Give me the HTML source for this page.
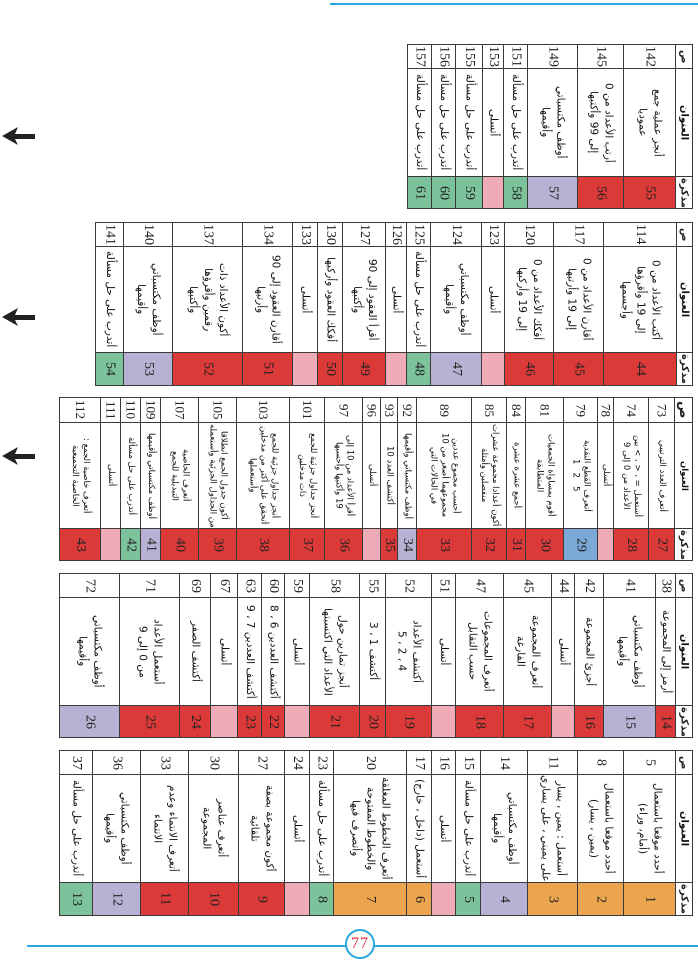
<!DOCTYPE html>
<html><head><meta charset="utf-8">
<style>
html,body{margin:0;padding:0;background:#fff;}
body{width:698px;height:962px;position:relative;overflow:hidden;font-family:"DejaVu Sans","Liberation Sans",sans-serif;}
.r{position:absolute;display:flex;flex-direction:column;border:1px solid #3a3a3a;box-sizing:border-box;}
.r>div{writing-mode:vertical-rl;display:flex;align-items:center;justify-content:center;text-align:center;box-sizing:border-box;overflow:hidden;}
.p{border-bottom:1px solid #3a3a3a;font-family:"Liberation Serif",serif;font-size:14px;color:#222;}
.n{flex:1;border-bottom:1px solid #3a3a3a;direction:rtl;font-size:10.5px;line-height:15px;color:#111;}
.m{font-family:"Liberation Serif",serif;font-size:14px;color:#222;}
.h .p,.h .n,.h .m{font-family:"DejaVu Sans",sans-serif;font-weight:bold;font-size:10px;}
.t1 .r{top:44px;height:165px}.t1 .p{height:24px}.t1 .m{height:31px}
.t2 .r{top:222px;height:164px}.t2 .p{height:24px}.t2 .m{height:32px}
.t3 .r{top:397px;height:164px}.t3 .p{height:25px}.t3 .m{height:31px}.t3 .n{font-size:8.5px;line-height:11px}.t3 .p{font-size:13px}
.t4 .r{top:573px;height:165px}.t4 .p{height:24px}.t4 .m{height:31px}
.t5 .r{top:750px;height:166px}.t5 .p{height:24px}.t5 .m{height:32px}
.R{background:#dc3a38}.V{background:#b9b1d3}.G{background:#7cc29b}.K{background:#f0abb9}.B{background:#7aa8d7}.O{background:#eca54f}
</style></head><body>
<div style="position:absolute;left:330px;top:3px;width:368px;height:2px;background:#2aa7e0"></div>
<div style="position:absolute;left:27px;top:945px;width:671px;height:2px;background:#2aa7e0"></div>
<div style="position:absolute;left:345px;top:929px;width:30px;height:30px;border:2px solid #2aa7e0;border-radius:50%;background:#fff;box-sizing:border-box;text-align:center;line-height:26px;color:#e03040;font-family:'Liberation Serif',serif;font-size:16px;letter-spacing:1px">77</div>
<svg style="position:absolute;left:0;top:0" width="40" height="480">
<polygon points="2,136 18,127 15,134 35,134 35,139 15,139 18,145" fill="#222"/>
<polygon points="2,317 18,308 15,315 35,315 35,320 15,320 18,326" fill="#222"/>
<polygon points="2,456 18,447 15,454 35,454 35,459 15,459 18,465" fill="#222"/>
</svg>

<div class="t1">
<div class="r h" style="left:675px;width:18px"><div class="p">ص</div><div class="n">العنوان</div><div class="m">مذكرة</div></div>
<div class="r" style="left:623px;width:53px"><div class="p">142</div><div class="n">أنجز عملية جمع<br>عموديا</div><div class="m R">55</div></div>
<div class="r" style="left:577px;width:47px"><div class="p">145</div><div class="n">أرتب الأعداد من 0<br>إلى 99 وأكتبها</div><div class="m R">56</div></div>
<div class="r" style="left:527px;width:51px"><div class="p">149</div><div class="n">أوظف مكتسباتي<br>وأقيمها</div><div class="m V">57</div></div>
<div class="r" style="left:503px;width:25px"><div class="p">151</div><div class="n">أتدرب على حل مسألة</div><div class="m G">58</div></div>
<div class="r" style="left:482px;width:22px"><div class="p">153</div><div class="n">أتسلى</div><div class="m K"></div></div>
<div class="r" style="left:455px;width:28px"><div class="p">155</div><div class="n">أتدرب على حل مسألة</div><div class="m G">59</div></div>
<div class="r" style="left:431px;width:25px"><div class="p">156</div><div class="n">أتدرب على حل مسألة</div><div class="m G">60</div></div>
<div class="r" style="left:407px;width:25px"><div class="p">157</div><div class="n">أتدرب على حل مسألة</div><div class="m G">61</div></div>
</div>

<div class="t2">
<div class="r h" style="left:676px;width:17px"><div class="p">ص</div><div class="n">العنوان</div><div class="m">مذكرة</div></div>
<div class="r" style="left:603px;width:74px"><div class="p">114</div><div class="n">أكتب الأعداد من 0<br>إلى 19 وأقرؤها<br>وأجسمها</div><div class="m R">44</div></div>
<div class="r" style="left:553px;width:51px"><div class="p">117</div><div class="n">أقارن الأعداد من 0<br>إلى 19 وأرتبها</div><div class="m R">45</div></div>
<div class="r" style="left:504px;width:50px"><div class="p">120</div><div class="n">أفكك الأعداد من 0<br>إلى 19 وأركبها</div><div class="m R">46</div></div>
<div class="r" style="left:481px;width:24px"><div class="p">123</div><div class="n">أتسلى</div><div class="m K"></div></div>
<div class="r" style="left:430px;width:52px"><div class="p">124</div><div class="n">أوظف مكتسباتي<br>وأقيمها</div><div class="m V">47</div></div>
<div class="r" style="left:406px;width:25px"><div class="p">125</div><div class="n">أتدرب على حل مسألة</div><div class="m G">48</div></div>
<div class="r" style="left:385px;width:22px"><div class="p">126</div><div class="n">أتسلى</div><div class="m K"></div></div>
<div class="r" style="left:342px;width:44px"><div class="p">127</div><div class="n">أقرأ العقود إلى 90<br>وأكتبها</div><div class="m R">49</div></div>
<div class="r" style="left:317px;width:26px"><div class="p">130</div><div class="n">أفكك العقود وأركبها</div><div class="m R">50</div></div>
<div class="r" style="left:292px;width:26px"><div class="p">133</div><div class="n">أتسلى</div><div class="m K"></div></div>
<div class="r" style="left:242px;width:51px"><div class="p">134</div><div class="n">أقارن العقود إلى 90<br>وأرتبها</div><div class="m R">51</div></div>
<div class="r" style="left:172px;width:71px"><div class="p">137</div><div class="n">أكون الأعداد ذات<br>رقمين وأقرؤها<br>وأكتبها</div><div class="m R">52</div></div>
<div class="r" style="left:123px;width:50px"><div class="p">140</div><div class="n">أوظف مكتسباتي<br>وأقيمها</div><div class="m V">53</div></div>
<div class="r" style="left:95px;width:29px"><div class="p">141</div><div class="n">أتدرب على حل مسألة</div><div class="m G">54</div></div>
</div>

<div class="t3">
<div class="r h" style="left:674px;width:19px"><div class="p">ص</div><div class="n">العنوان</div><div class="m">مذكرة</div></div>
<div class="r" style="left:648px;width:27px"><div class="p">73</div><div class="n">أتعرف العدد الترتيبي</div><div class="m R">27</div></div>
<div class="r" style="left:613px;width:36px"><div class="p">74</div><div class="n">أستعمل = ، &lt; ، &gt; بين<br>الأعداد من 0 إلى 9</div><div class="m R">28</div></div>
<div class="r" style="left:597px;width:17px"><div class="p">78</div><div class="n">أتسلى</div><div class="m K"></div></div>
<div class="r" style="left:563px;width:35px"><div class="p">79</div><div class="n">أتعرف القطع النقدية<br>5 &nbsp; 2 &nbsp; 1</div><div class="m B">29</div></div>
<div class="r" style="left:525px;width:39px"><div class="p">81</div><div class="n">أقوم بمساواة الجمعيات<br>المتطابقة</div><div class="m R">30</div></div>
<div class="r" style="left:506px;width:20px"><div class="p">84</div><div class="n">أجمع عشرة عشرة</div><div class="m R">31</div></div>
<div class="r" style="left:471px;width:36px"><div class="p">85</div><div class="n">أكون أعدادا مجموعة عشرات<br>منفصلين وأمثلة</div><div class="m R">32</div></div>
<div class="r" style="left:416px;width:56px"><div class="p">89</div><div class="n">أحسب مجموع عددين<br>مجموعهما أصغر من 10<br>في الحالات التي</div><div class="m R">33</div></div>
<div class="r" style="left:397px;width:20px"><div class="p">92</div><div class="n">أوظف مكتسباتي وأقيمها</div><div class="m V">34</div></div>
<div class="r" style="left:380px;width:18px"><div class="p">93</div><div class="n">أكتشف العدد 10</div><div class="m R">35</div></div>
<div class="r" style="left:362px;width:19px"><div class="p">96</div><div class="n">أتسلى</div><div class="m K"></div></div>
<div class="r" style="left:324px;width:39px"><div class="p">97</div><div class="n">أقرأ الأعداد من 10 إلى<br>19 وأكتبها وأحسبها</div><div class="m R">36</div></div>
<div class="r" style="left:289px;width:36px"><div class="p">101</div><div class="n">أنجز جداول جزئية للجمع<br>ذات مدخلين</div><div class="m R">37</div></div>
<div class="r" style="left:236px;width:54px"><div class="p">103</div><div class="n">أنجز جداول جزئية للجمع<br>أتحقق على أكثر من مدخلين<br>وأستعملها</div><div class="m R">38</div></div>
<div class="r" style="left:198px;width:39px"><div class="p">105</div><div class="n">أكون جدول الجمع انطلاقا<br>من الجداول الجزئية وأستعمله</div><div class="m R">39</div></div>
<div class="r" style="left:160px;width:39px"><div class="p">107</div><div class="n">أتعرف الخاصية<br>التبديلية للجمع</div><div class="m R">40</div></div>
<div class="r" style="left:140px;width:21px"><div class="p">109</div><div class="n">أوظف مكتسباتي وأقيمها</div><div class="m V">41</div></div>
<div class="r" style="left:120px;width:21px"><div class="p">110</div><div class="n">أتدرب على حل مسألة</div><div class="m G">42</div></div>
<div class="r" style="left:100px;width:21px"><div class="p">111</div><div class="n">أتسلى</div><div class="m K"></div></div>
<div class="r" style="left:59px;width:42px"><div class="p">112</div><div class="n">أتعرف خاصية الجمع :<br>الخاصية التجميعية</div><div class="m R">43</div></div>
</div>

<div class="t4">
<div class="r h" style="left:675px;width:18px"><div class="p">ص</div><div class="n">العنوان</div><div class="m">مذكرة</div></div>
<div class="r" style="left:655px;width:21px"><div class="p">38</div><div class="n">أرمز إلى المجموعة</div><div class="m R">14</div></div>
<div class="r" style="left:603px;width:53px"><div class="p">41</div><div class="n">أوظف مكتسباتي<br>وأقيمها</div><div class="m V">15</div></div>
<div class="r" style="left:574px;width:30px"><div class="p">42</div><div class="n">أجزئ المجموعة</div><div class="m R">16</div></div>
<div class="r" style="left:551px;width:24px"><div class="p">44</div><div class="n">أتسلى</div><div class="m K"></div></div>
<div class="r" style="left:503px;width:49px"><div class="p">45</div><div class="n">أتعرف المجموعة<br>الفارغة</div><div class="m R">17</div></div>
<div class="r" style="left:455px;width:49px"><div class="p">47</div><div class="n">أتعرف المجموعات<br>حسب التقابل</div><div class="m R">18</div></div>
<div class="r" style="left:431px;width:25px"><div class="p">51</div><div class="n">أتسلى</div><div class="m K"></div></div>
<div class="r" style="left:385px;width:47px"><div class="p">52</div><div class="n">أكتشف الأعداد<br>4 ، 2 ، 5</div><div class="m R">19</div></div>
<div class="r" style="left:359px;width:27px"><div class="p">55</div><div class="n">أكتشف 1 ، 3</div><div class="m R">20</div></div>
<div class="r" style="left:309px;width:51px"><div class="p">58</div><div class="n">أنجز تمارين حول<br>الأعداد التي اكتسبتها</div><div class="m R">21</div></div>
<div class="r" style="left:284px;width:26px"><div class="p">59</div><div class="n">أتسلى</div><div class="m K"></div></div>
<div class="r" style="left:261px;width:24px"><div class="p">60</div><div class="n">أكتشف العددين 6 ، 8</div><div class="m R">22</div></div>
<div class="r" style="left:237px;width:25px"><div class="p">63</div><div class="n">أكتشف العددين 7 ، 9</div><div class="m R">23</div></div>
<div class="r" style="left:210px;width:28px"><div class="p">67</div><div class="n">أتسلى</div><div class="m K"></div></div>
<div class="r" style="left:179px;width:32px"><div class="p">69</div><div class="n">أكتشف الصفر</div><div class="m R">24</div></div>
<div class="r" style="left:119px;width:61px"><div class="p">71</div><div class="n">أستعمل الأعداد<br>من 0 إلى 9</div><div class="m R">25</div></div>
<div class="r" style="left:59px;width:61px"><div class="p">72</div><div class="n">أوظف مكتسباتي<br>وأقيمها</div><div class="m V">26</div></div>
</div>

<div class="t5">
<div class="r h" style="left:675px;width:18px"><div class="p">ص</div><div class="n">العنوان</div><div class="m">مذكرة</div></div>
<div class="r" style="left:623px;width:53px"><div class="p">5</div><div class="n">أحدد موقعا باستعمال<br>(أمام، وراء)</div><div class="m O">1</div></div>
<div class="r" style="left:577px;width:47px"><div class="p">8</div><div class="n">أحدد موقعا باستعمال<br>(يمين ، يسار)</div><div class="m O">2</div></div>
<div class="r" style="left:527px;width:51px"><div class="p">11</div><div class="n">أستعمل : يمين ، يسار<br>على يميني ، على يساري</div><div class="m O">3</div></div>
<div class="r" style="left:480px;width:48px"><div class="p">14</div><div class="n">أوظف مكتسباتي<br>وأقيمها</div><div class="m V">4</div></div>
<div class="r" style="left:455px;width:26px"><div class="p">15</div><div class="n">أتدرب على حل مسألة</div><div class="m G">5</div></div>
<div class="r" style="left:431px;width:25px"><div class="p">16</div><div class="n">أتسلى</div><div class="m K"></div></div>
<div class="r" style="left:406px;width:26px"><div class="p">17</div><div class="n">أستعمل (داخل ، خارج)</div><div class="m O">6</div></div>
<div class="r" style="left:333px;width:74px"><div class="p">20</div><div class="n">أتعرف الخطوط المغلقة<br>والخطوط المفتوحة<br>وأتصرف فيها</div><div class="m O">7</div></div>
<div class="r" style="left:309px;width:25px"><div class="p">23</div><div class="n">أتدرب على حل مسألة</div><div class="m G">8</div></div>
<div class="r" style="left:284px;width:26px"><div class="p">24</div><div class="n">أتسلى</div><div class="m K"></div></div>
<div class="r" style="left:238px;width:47px"><div class="p">27</div><div class="n">أكون مجموعة بصفة<br>تلقائية</div><div class="m R">9</div></div>
<div class="r" style="left:188px;width:51px"><div class="p">30</div><div class="n">أتعرف عناصر<br>المجموعة</div><div class="m R">10</div></div>
<div class="r" style="left:140px;width:49px"><div class="p">33</div><div class="n">أتعرف الانتماء وعدم<br>الانتماء</div><div class="m R">11</div></div>
<div class="r" style="left:92px;width:49px"><div class="p">36</div><div class="n">أوظف مكتسباتي<br>وأقيمها</div><div class="m V">12</div></div>
<div class="r" style="left:59px;width:34px"><div class="p">37</div><div class="n">أتدرب على حل مسألة</div><div class="m G">13</div></div>
</div>
</body></html>
